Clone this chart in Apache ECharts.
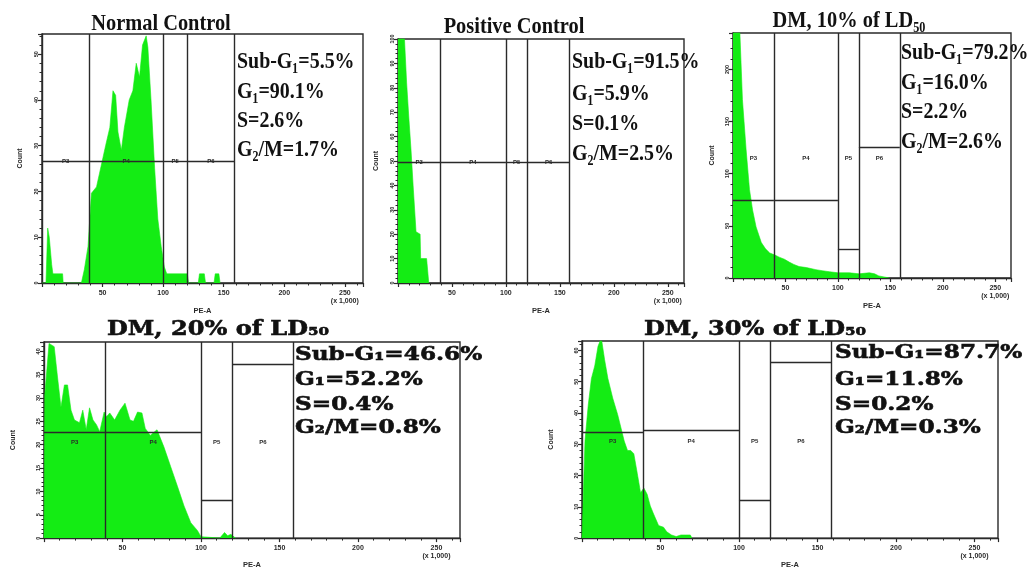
<!DOCTYPE html>
<html><head><meta charset="utf-8">
<script src="https://cdn.jsdelivr.net/npm/echarts@6/dist/echarts.min.js"></script>
<style>html,body{margin:0;padding:0;background:#fff}#c{width:1029px;height:570px}</style>
</head><body><div id="c"></div>
<script>
// ---------------- DATA ----------------
const panelTitles = ['Normal Control', 'Positive Control', 'DM, 10% of LD₅₀', 'DM, 20% of LD₅₀', 'DM, 30% of LD₅₀'];
const statNames = ['Sub-G₁', 'G₁', 'S', 'G₂/M'];
const ncStats   = [5.5, 90.1, 2.6, 1.7];
const pcStats   = [91.5, 5.9, 0.1, 2.5];
const dm10Stats = [79.2, 16.0, 2.2, 2.6];
const dm20Stats = [46.6, 52.2, 0.4, 0.8];
const dm30Stats = [87.7, 11.8, 0.2, 0.3];

const gateNames = ['P3', 'P4', 'P5', 'P6'];
const gateEdges = [0, 39, 100, 120, 159];           // PE-A (x 1,000)
const ncGateHeights   = [26.6, 26.6, 26.6, 26.6];
const pcGateHeights   = [49.6, 49.6, 49.6, 49.6];
const dm10GateHeights = [75, 75, 28, 125];
const dm20GateHeights = [22.6, 22.6, 8.1, 37.2];
const dm30GateHeights = [33.8, 34.4, 12.2, 56.3];

// histogram outlines: PE-A (x 1,000) and Count
const ncPE   = [0, 3.3, 4.7, 6, 8, 9, 17, 17.5, 32.5, 35, 38, 40.8, 45, 47.5, 52.5, 56, 58.6, 60.8, 62.7, 65.5, 68, 72, 75, 77.8, 80.5, 83, 86, 87.4, 90, 93, 95.6, 98.4, 101, 103, 120, 121, 129, 130, 134, 135, 142, 143, 146, 147];
const ncCnt  = [0, 0, 12, 10, 4, 2, 2, 0, 0, 3, 8, 19.6, 21, 24, 30, 34, 42, 41, 33, 29, 34, 40, 42, 48, 45, 52, 54, 51.5, 40, 25, 14, 8, 3.5, 2, 2, 0, 0, 2, 2, 0, 0, 2, 2, 0];
const pcPE   = [0, 3, 6, 8, 10, 12, 14, 16.7, 20.5, 21, 26.5, 28.5];
const pcCnt  = [300, 200, 100, 82, 68, 55, 40, 21, 20, 10, 10, 0];
const dm10PE  = [0, 3, 6, 9, 12.5, 15.7, 18.7, 22, 27, 31, 35, 40, 44, 49, 54, 58, 63, 70, 79, 85, 92, 100, 111, 120, 130, 135, 139, 149];
const dm10Cnt = [400, 350, 250, 171, 123, 85, 65, 49, 34, 28, 24, 22, 20, 18, 15, 13, 11, 10, 8, 7, 6, 5, 5, 4, 5, 4, 2, 0];
const dm20PE  = [0, 0.5, 3.2, 6.5, 8.6, 10.8, 13, 15, 17.2, 19.4, 22.6, 24.7, 26.9, 29, 31.2, 33.4, 35.5, 38.3, 39.8, 41.9, 45, 48.4, 51.6, 54.8, 57, 59.6, 62.4, 64.5, 67.7, 72, 76.3, 80.6, 85, 89.2, 93.5, 97.8, 100, 112, 115, 117, 119, 122];
const dm20Cnt = [0, 30.6, 41.7, 41, 34.5, 28, 32.8, 32.8, 27.4, 25.3, 24.7, 27.4, 23.2, 27.9, 25.3, 24.3, 22.8, 27, 26, 26.8, 25.3, 27.4, 28.9, 25.3, 25, 27, 26.8, 23.5, 22, 23.2, 19.6, 15.4, 11.1, 6.9, 3.3, 1.6, 0.3, 0, 1.2, 0.5, 0.8, 0];
const dm30PE  = [0, 1.9, 4, 6, 8.1, 10.2, 12.3, 14.4, 16.5, 19.6, 22.7, 24.8, 26.9, 29, 31, 33, 35.2, 37.3, 39.4, 41.5, 43.5, 45.6, 48.8, 51.9, 54, 57, 60, 63, 66, 69, 70];
const dm30Cnt = [0, 31, 42.6, 51, 55, 61.3, 64, 57, 51, 44.7, 39.5, 35.3, 31, 28, 28, 27, 20.7, 14.5, 16, 14, 10.3, 7.7, 4, 3.5, 2, 1, 0.5, 1, 1, 1, 0];

const xMax = 265;
const yMaxes    = [54.4, 100, 235, 42, 63];
const yIntervals = [10, 10, 50, 5, 10];

// ---------------- LAYOUT ----------------
const panels = [
  {pe: ncPE, cnt: ncCnt, stats: ncStats, gates: ncGateHeights, labelY: ncGateHeights[0],
   grid: {left: 42, top: 34, width: 321, height: 249}, countGap: 18, peGap: 24,
   title: [161, 24], statX: 237, statY: [62, 92, 121, 150], big: false},
  {pe: pcPE, cnt: pcCnt, stats: pcStats, gates: pcGateHeights, labelY: pcGateHeights[0],
   grid: {left: 398, top: 39, width: 286, height: 244}, countGap: 18, peGap: 24,
   title: [514, 27], statX: 572, statY: [62, 94, 124, 154], big: false},
  {pe: dm10PE, cnt: dm10Cnt, stats: dm10Stats, gates: dm10GateHeights, labelY: 115,
   grid: {left: 733, top: 33, width: 278, height: 245}, countGap: 17, peGap: 24,
   title: [849, 21], statX: 901, statY: [53, 83, 112, 142], big: false},
  {pe: dm20PE, cnt: dm20Cnt, stats: dm20Stats, gates: dm20GateHeights, labelY: 20.6,
   grid: {left: 44, top: 342, width: 416, height: 197}, countGap: 27, peGap: 22,
   title: [218, 330], statX: 295, statY: [355, 380, 405, 428], big: true},
  {pe: dm30PE, cnt: dm30Cnt, stats: dm30Stats, gates: dm30GateHeights, labelY: 31,
   grid: {left: 582, top: 341, width: 416, height: 202}, countGap: 27, peGap: 22,
   title: [755, 330], statX: 835, statY: [353, 380, 405, 428], big: true}
];

const GREEN = '#14ec14';
const INK = '#2a2a2a';

const grids = [], xAxes = [], yAxes = [], series = [], graphics = [];

panels.forEach((p, i) => {
  grids.push(Object.assign({show: true, borderColor: INK, borderWidth: 1.4, containLabel: false}, p.grid));
  xAxes.push({
    gridIndex: i, type: 'value', min: 0, max: xMax, interval: 50,
    axisLine: {show: true, onZero: false, lineStyle: {color: INK, width: 1.4}},
    axisTick: {show: true, length: 4, lineStyle: {color: INK, width: 1.2}},
    minorTick: {show: true, splitNumber: 5, length: 2.5, lineStyle: {color: INK, width: 1}},
    splitLine: {show: false},
    axisLabel: {showMinLabel: false, showMaxLabel: false, fontSize: 7, fontWeight: 'bold', color: INK, margin: 6,
      fontFamily: 'Liberation Sans', lineHeight: 8,
      formatter: v => v === 250 ? '250\n(x 1,000)' : String(v)},
    name: 'PE-A', nameLocation: 'middle', nameGap: p.peGap,
    nameTextStyle: {fontSize: 7.5, fontWeight: 'bold', color: INK, fontFamily: 'Liberation Sans'}
  });
  const yMax = yMaxes[i], yInt = yIntervals[i];
  yAxes.push({
    gridIndex: i, type: 'value', min: 0, max: yMax, interval: yInt,
    axisLine: {show: true, lineStyle: {color: INK, width: 1.4}},
    axisTick: {show: true, length: 4, lineStyle: {color: INK, width: 1.2}},
    minorTick: {show: true, splitNumber: 5, length: 2.5, lineStyle: {color: INK, width: 1}},
    splitLine: {show: false},
    axisLabel: {rotate: 90, fontSize: 5.5, fontWeight: 'bold', color: INK, margin: 3,
      fontFamily: 'Liberation Sans', showMaxLabel: (yMax % yInt === 0)},
    name: 'Count', nameLocation: 'middle', nameGap: p.countGap,
    nameTextStyle: {fontSize: 7, fontWeight: 'bold', color: INK, fontFamily: 'Liberation Sans'}
  });

  // gate lines
  const mlData = [];
  for (let g = 1; g < gateEdges.length; g++) mlData.push({xAxis: gateEdges[g]});
  for (let g = 0; g < gateNames.length; g++) {
    mlData.push([{coord: [gateEdges[g], p.gates[g]]}, {coord: [gateEdges[g + 1], p.gates[g]]}]);
  }
  const mpData = gateNames.map((n, g) => ({
    name: n, coord: [(gateEdges[g] + gateEdges[g + 1]) / 2, p.labelY], value: n
  }));

  series.push({
    type: 'line', xAxisIndex: i, yAxisIndex: i,
    data: p.pe.map((x, k) => [x, p.cnt[k]]),
    symbol: 'none', clip: true, silent: true,
    lineStyle: {color: GREEN, width: 0.6},
    areaStyle: {color: GREEN, opacity: 1},
    markLine: {silent: true, symbol: 'none', animation: false,
      label: {show: false}, emphasis: {disabled: true},
      lineStyle: {color: INK, width: 1.4, type: 'solid'}, data: mlData},
    markPoint: {silent: true, symbol: 'rect', symbolSize: 1, animation: false,
      itemStyle: {color: 'rgba(0,0,0,0)'},
      label: {show: true, position: 'inside', formatter: d => d.name, fontSize: 6, fontWeight: 'bold',
        color: INK, fontFamily: 'Liberation Sans'},
      data: mpData}
  });

  // title
  graphics.push({
    type: 'text', x: p.title[0], y: p.title[1], scaleX: p.big ? 1.2 : 0.85, z: 100,
    style: {text: panelTitles[i], fill: '#111', stroke: p.big ? '#111' : null, lineWidth: p.big ? 0.6 : 0,
      font: p.big ? 'bold 20px "DejaVu Serif"' : 'bold 24px "Liberation Serif"',
      textAlign: 'center', textVerticalAlign: 'middle', align: 'center', verticalAlign: 'middle'}
  });
  // stats
  p.stats.forEach((v, k) => {
    graphics.push({
      type: 'text', x: p.statX, y: p.statY[k], scaleX: p.big ? 1.22 : 0.83, z: 100,
      style: {text: statNames[k] + '=' + v.toFixed(1) + '%', fill: '#111',
        stroke: p.big ? '#111' : null, lineWidth: p.big ? 0.6 : 0,
        font: p.big ? 'bold 19px "DejaVu Serif"' : 'bold 24px "Liberation Serif"',
        textAlign: 'left', textVerticalAlign: 'middle', align: 'left', verticalAlign: 'middle'}
    });
  });
});

const chart = echarts.init(document.getElementById('c'), null, {renderer: 'canvas'});
chart.setOption({
  animation: false,
  backgroundColor: '#fff',
  grid: grids, xAxis: xAxes, yAxis: yAxes, series: series,
  graphic: {elements: graphics}
});
</script>
</body></html>
